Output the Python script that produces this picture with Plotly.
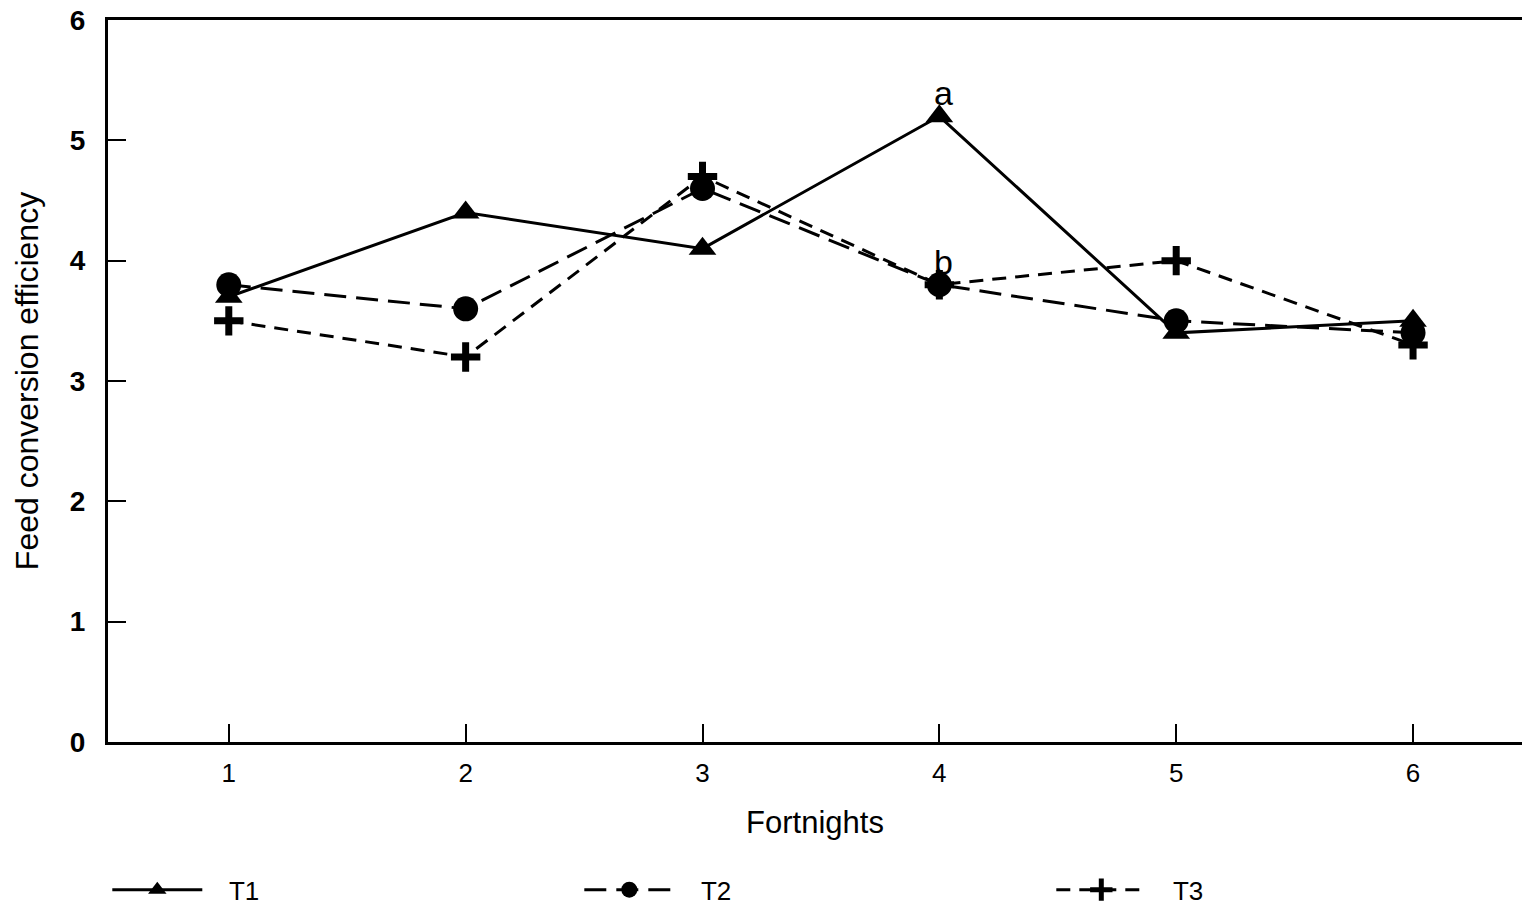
import plotly.graph_objects as go

fortnights = [1, 2, 3, 4, 5, 6]
t1 = [3.7, 4.4, 4.1, 5.2, 3.4, 3.5]
t2 = [3.8, 3.6, 4.6, 3.8, 3.5, 3.4]
t3 = [3.5, 3.2, 4.7, 3.8, 4.0, 3.3]
sig_labels = [("a", 4, 5.2), ("b", 4, 3.8)]
series_names = ["T1", "T2", "T3"]

pad = "\u00a0" * 3

fig = go.Figure()
fig.add_trace(go.Scatter(x=fortnights, y=t1, name=pad + series_names[0], mode="lines+markers",
                         line=dict(color="black", width=3),
                         marker=dict(symbol="triangle-up", size=24, color="black")))
fig.add_trace(go.Scatter(x=fortnights, y=t2, name=pad + series_names[1], mode="lines+markers",
                         line=dict(color="black", width=3, dash="22px,10px"),
                         marker=dict(symbol="circle", size=25, color="black")))
fig.add_trace(go.Scatter(x=fortnights, y=t3, name=pad + series_names[2], mode="lines+markers",
                         line=dict(color="black", width=3, dash="14px,9px"),
                         marker=dict(symbol="cross-thin", size=21, color="black",
                                     line=dict(color="black", width=7))))

for txt, xv, yv in sig_labels:
    fig.add_annotation(x=xv, y=yv, text=txt, showarrow=False, yshift=23,
                       xshift=4, font=dict(size=34, color="black", family="Liberation Sans"))

fig.update_layout(
    width=1522, height=907,
    margin=dict(l=108, r=0, t=20, b=165),
    plot_bgcolor="white", paper_bgcolor="white",
    font=dict(family="Liberation Sans", color="black"),
    showlegend=True,
    legend=dict(orientation="h", xref="container", yref="container",
                x=0.0705, y=0.019, yanchor="middle", xanchor="left",
                entrywidth=367, entrywidthmode="pixels", itemwidth=90,
                font=dict(size=26, family="Liberation Sans"),
                bgcolor="rgba(0,0,0,0)"),
    xaxis=dict(range=[0.49, 6.46], tickvals=fortnights, ticks="inside", ticklen=18,
               tickwidth=2, tickcolor="black", showline=True, linewidth=3,
               linecolor="black", mirror=True, showgrid=False, zeroline=False,
               tickfont=dict(size=26), ticklabelstandoff=6,
               title=dict(text="Fortnights", font=dict(size=31), standoff=25)),
    yaxis=dict(range=[0, 6], tickvals=[0, 1, 2, 3, 4, 5, 6], ticks="inside",
               ticklen=18, tickwidth=2, tickcolor="black", showline=True,
               linewidth=3, linecolor="black", showgrid=False, zeroline=False,
               tickfont=dict(size=28, weight="bold"), ticklabelstandoff=14,
               title=dict(text="Feed conversion efficiency", font=dict(size=32), standoff=22)),
)

fig.write_html("out.html")
